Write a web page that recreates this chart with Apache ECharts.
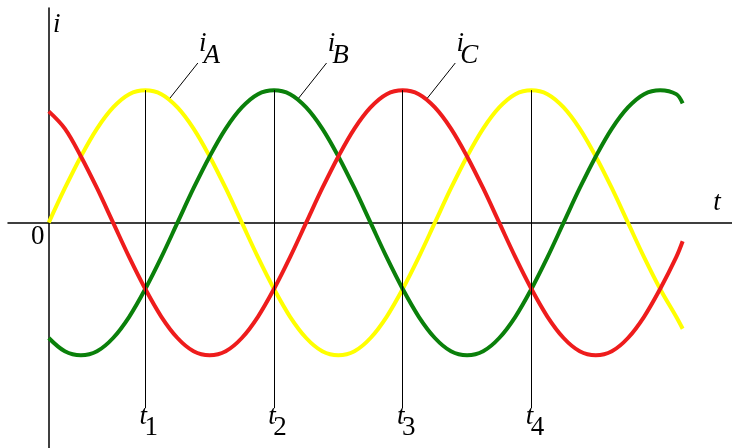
<!DOCTYPE html>
<html>
<head>
<meta charset="utf-8">
<script src="https://cdn.jsdelivr.net/npm/echarts@6/dist/echarts.min.js"></script>
<style>
  html, body { margin: 0; padding: 0; background: #fff; }
  #chart { width: 732px; height: 448px; }
</style>
</head>
<body>
<div id="chart"></div>
<script>
// phase angle (degrees) and the three currents (peak = 1)
var angles = [0, 15, 30, 45, 60, 75, 90, 105, 120, 135, 150, 165, 180, 195, 210, 225, 240, 255, 270, 285,
  300, 315, 330, 345, 360, 375, 390, 405, 420, 435, 450, 465, 480, 495, 510, 525, 540, 555, 570, 585, 591];
var iA = [0, 0.26, 0.5, 0.71, 0.87, 0.97, 1, 0.97, 0.87, 0.71, 0.5, 0.26, 0, -0.26, -0.5, -0.71, -0.87, -0.97, -1, -0.97,
  -0.87, -0.71, -0.5, -0.26, 0, 0.26, 0.5, 0.71, 0.87, 0.97, 1, 0.97, 0.87, 0.71, 0.5, 0.26, 0, -0.26, -0.5, -0.71, -0.8];
var iB = [-0.87, -0.97, -1, -0.97, -0.87, -0.71, -0.5, -0.26, 0, 0.26, 0.5, 0.71, 0.87, 0.97, 1, 0.97, 0.87, 0.71, 0.5, 0.26,
  0, -0.26, -0.5, -0.71, -0.87, -0.97, -1, -0.97, -0.87, -0.71, -0.5, -0.26, 0, 0.26, 0.5, 0.71, 0.87, 0.97, 1, 0.97, 0.9];
var iC = [0.84, 0.71, 0.5, 0.26, 0, -0.26, -0.5, -0.71, -0.87, -0.97, -1, -0.97, -0.87, -0.71, -0.5, -0.26, 0, 0.26, 0.5, 0.71,
  0.87, 0.97, 1, 0.97, 0.87, 0.71, 0.5, 0.26, 0, -0.26, -0.5, -0.71, -0.87, -0.97, -1, -0.97, -0.87, -0.71, -0.5, -0.26, -0.14];
var tMarks = [90, 210, 330, 450];
var tNames = ['1', '2', '3', '4'];
var phaseNames = ['A', 'B', 'C'];
var phasePeaks = [90, 210, 330];

var xMin = -38, xMax = 637, yMin = -1.70, yMax = 1.62;
var tBottom = -1.40;
var serif = '"Liberation Serif", "Times New Roman", serif';

function pairs(vals) {
  return angles.map(function (a, i) { return [a, vals[i]]; });
}

var tLines = tMarks.map(function (t) {
  return [{ coord: [t, 1] }, { coord: [t, tBottom] }];
});
var leaders = phasePeaks.map(function (p) {
  return [{ coord: [p + 23, 0.94] }, { coord: [p + 49, 1.205] }];
});

var chart = echarts.init(document.getElementById('chart'));
var option = {
  animation: false,
  backgroundColor: '#fff',
  grid: { left: 8, right: 0, top: 8, bottom: 0 },
  xAxis: {
    type: 'value', min: xMin, max: xMax,
    axisLine: { onZero: true, lineStyle: { color: '#000', width: 1.5 } },
    axisTick: { show: false }, axisLabel: { show: false }, splitLine: { show: false }
  },
  yAxis: {
    type: 'value', min: yMin, max: yMax,
    axisLine: { show: true, onZero: true, lineStyle: { color: '#000', width: 1.5 } },
    axisTick: { show: false }, axisLabel: { show: false }, splitLine: { show: false }
  },
  series: [
    {
      name: 'iA', type: 'line', data: pairs(iA), smooth: 0.35, symbol: 'none',
      lineStyle: { color: '#ffff00', width: 4 }
    },
    {
      name: 'iB', type: 'line', data: pairs(iB), smooth: 0.35, symbol: 'none',
      lineStyle: { color: '#0a800a', width: 4 }
    },
    {
      name: 'iC', type: 'line', data: pairs(iC), smooth: 0.35, symbol: 'none',
      lineStyle: { color: '#ee1c1c', width: 4 },
      markLine: {
        silent: true, symbol: ['none', 'none'], label: { show: false },
        lineStyle: { color: '#000', width: 1, type: 'solid' },
        data: tLines.concat(leaders)
      }
    }
  ]
};
chart.setOption(option);

// text annotations, anchored to data points
function px(p) { return chart.convertToPixel({ gridIndex: 0 }, p); }
function txt(anchor, dx, dy, text, italic) {
  return {
    type: 'text', x: anchor[0] + dx, y: anchor[1] + dy, z: 100,
    style: {
      text: text, fill: '#000', fontFamily: serif, fontSize: 27,
      fontStyle: italic ? 'italic' : 'normal',
      align: 'center', verticalAlign: 'middle',
      textAlign: 'center', textVerticalAlign: 'middle'
    }
  };
}
var g = [];
g.push(txt(px([0, yMax]), 8, 17, 'i', true));
g.push(txt(px([xMax, 0]), -15, -20, 't', true));
g.push(txt(px([0, 0]), -11, 14, '0', false));
tMarks.forEach(function (t, k) {
  var a = px([t, tBottom]);
  g.push(txt(a, -2, 9, 't', true));
  g.push(txt(a, 6, 20, tNames[k], false));
});
phasePeaks.forEach(function (p, k) {
  var a = px([p + 49, 1.205]);
  g.push(txt(a, 5, -19, 'i', true));
  g.push(txt(a, 14, -7, phaseNames[k], true));
});
chart.setOption({ graphic: { elements: g } });
</script>
</body>
</html>
